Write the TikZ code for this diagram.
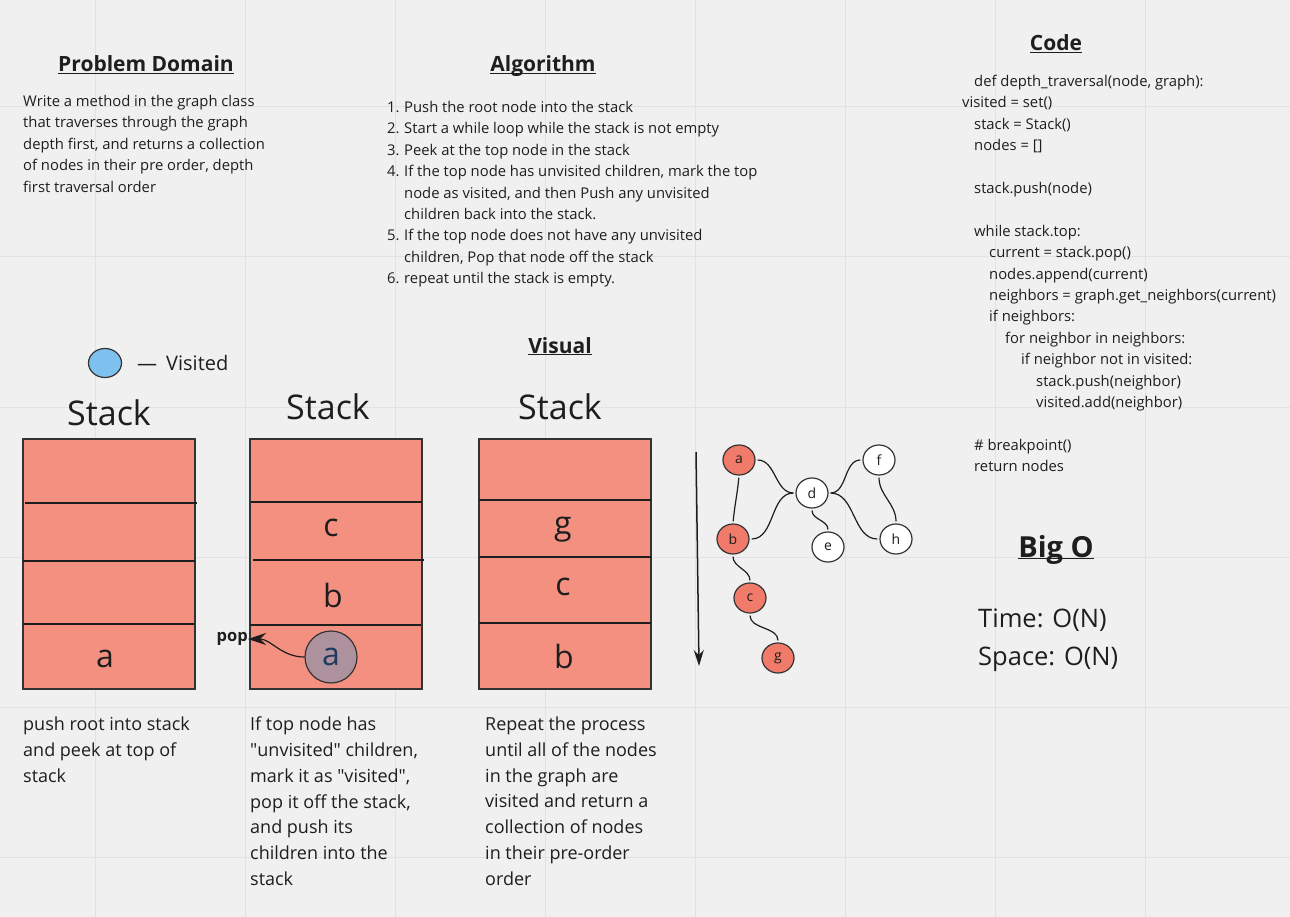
\documentclass[tikz,border=0pt]{standalone}
\usepackage{fontspec}
\setmainfont{Open Sans}
\usetikzlibrary{arrows.meta,shapes.geometric}

\definecolor{paper}{HTML}{F0F0F0}
\definecolor{gridgray}{HTML}{E2E2E2}
\definecolor{ink}{HTML}{1E1E1E}
\definecolor{edge}{HTML}{333333}
\definecolor{stackred}{HTML}{F4907F}
\definecolor{nodered}{HTML}{F17B6A}
\definecolor{visitblue}{HTML}{7EC0EE}
\definecolor{popmauve}{HTML}{AD919C}
\definecolor{navy}{HTML}{1E3A5F}

\begin{document}
\begin{tikzpicture}[x=1pt, y=-1pt, >=Stealth,
        heading/.style={inner sep=0pt, text=ink, font=\fontsize{21}{24}\selectfont\bfseries},
        para/.style={inner sep=0pt, text=ink, anchor=north west, align=left, font=\fontsize{14.8}{21.4}\selectfont},
        note/.style={inner sep=0pt, text=ink, anchor=north west, align=left, font=\fontsize{18}{25.7}\selectfont},
        stacktitle/.style={inner sep=0pt, text=ink, font=\fontsize{34}{40}\selectfont},
        stackbox/.style={rectangle, draw=edge, line width=1.5pt, fill=stackred, minimum width=172pt, minimum height=250pt, inner sep=0pt},
        slot/.style={inner sep=0pt, text=ink, font=\fontsize{32}{36}\selectfont},
        divider/.style={draw=ink, line width=1.5pt},
        gnode/.style={ellipse, draw=edge, line width=1.2pt, minimum width=32pt, minimum height=30pt, inner sep=0pt, text=ink, font=\fontsize{14}{16}\selectfont},
        gedge/.style={draw=ink, line width=1.2pt, shorten <=2pt, shorten >=2pt}
    ]

    % Canvas and grid
    \fill[paper] (0,0) rectangle (1290,917);
    \useasboundingbox (0,0) rectangle (1290,917);
    \foreach \gx in {95,245,...,1145} \draw[gridgray, line width=1pt] (\gx,0) -- (\gx,917);
    \foreach \gy in {107,257,...,857} \draw[gridgray, line width=1pt] (0,\gy) -- (1290,\gy);

    % Problem Domain
    \node[heading] (pdtitle) at (146,73) {\underline{\smash{Problem Domain}}};
    \node[para] (pdtext) at (23,95) {Write a method in the graph class\\
        that traverses through the graph\\
        depth first, and returns a collection\\
        of nodes in their pre order, depth\\
        first traversal order};

    % Algorithm
    \node[heading] (algtitle) at (543,73) {\underline{\smash{Algorithm}}};
    \node[para] (algtext) at (387,101) {\makebox[17pt][l]{1.}Push the root node into the stack\\
        \makebox[17pt][l]{2.}Start a while loop while the stack is not empty\\
        \makebox[17pt][l]{3.}Peek at the top node in the stack\\
        \makebox[17pt][l]{4.}If the top node has unvisited children, mark the top\\
        \hspace*{17pt}node as visited, and then Push any unvisited\\
        \hspace*{17pt}children back into the stack.\\
        \makebox[17pt][l]{5.}If the top node does not have any unvisited\\
        \hspace*{17pt}children, Pop that node off the stack\\
        \makebox[17pt][l]{6.}repeat until the stack is empty.};

    % Code
    \node[heading] (codetitle) at (1056,52) {\underline{\smash{Code}}};
    \node[para] (codetext) at (962,75) {\hspace*{12pt}def depth\_traversal(node, graph):\\
        visited = set()\\
        \hspace*{12pt}stack = Stack()\\
        \hspace*{12pt}nodes = []\\[21.4pt]
        \hspace*{12pt}stack.push(node)\\[21.4pt]
        \hspace*{12pt}while stack.top:\\
        \hspace*{27pt}current = stack.pop()\\
        \hspace*{27pt}nodes.append(current)\\
        \hspace*{27pt}neighbors = graph.get\_neighbors(current)\\
        \hspace*{27pt}if neighbors:\\
        \hspace*{43pt}for neighbor in neighbors:\\
        \hspace*{59pt}if neighbor not in visited:\\
        \hspace*{74pt}stack.push(neighbor)\\
        \hspace*{74pt}visited.add(neighbor)\\[21.4pt]
        \hspace*{12pt}\# breakpoint()\\
        \hspace*{12pt}return nodes};

    % Visual
    \node[heading] (vistitle) at (560,354) {\underline{\smash{Visual}}};

    % Legend
    \node[ellipse, draw=edge, line width=1.2pt, fill=visitblue, minimum width=33pt, minimum height=29pt, inner sep=0pt] (legend) at (105,363) {};
    \node[inner sep=0pt, anchor=west, text=ink, font=\fontsize{20}{24}\selectfont] (legendtext) at (137,363) {—\hspace{9pt}Visited};

    % Stack 1
    \node[stacktitle] (st1) at (109,413) {Stack};
    \node[stackbox] (s1) at (109,564) {};
    \draw[divider] (25,503) -- (197,503);
    \draw[divider] (23,561) -- (195,561);
    \draw[divider] (23,624) -- (194,624);
    \node[slot] (s1a) at (105,659) {a};

    % Stack 2
    \node[stacktitle] (st2) at (328,407) {Stack};
    \node[stackbox] (s2) at (336,564) {};
    \draw[divider] (251,502) -- (422,502);
    \draw[divider] (253,560) -- (424,560);
    \draw[divider] (250,625) -- (421,625);
    \node[slot] (s2c) at (331,528) {c};
    \node[slot] (s2b) at (333,595) {b};
    \node[circle, draw=edge, line width=1.2pt, fill=popmauve, minimum size=52pt, inner sep=0pt, text=navy, font=\fontsize{32}{36}\selectfont] (va) at (331,657) {a};
    \node[inner sep=0pt, anchor=east, text=ink, font=\fontsize{16.5}{18}\selectfont\bfseries] (poplabel) at (248,639) {pop};
    \draw[ink, line width=1.2pt, -{Stealth[length=18pt, width=12pt]}] (va.west) to[out=180, in=0] (poplabel.east);

    % Stack 3
    \node[stacktitle] (st3) at (560,407) {Stack};
    \node[stackbox] (s3) at (565,564) {};
    \draw[divider] (479,500) -- (651,500);
    \draw[divider] (479,557) -- (651,557);
    \draw[divider] (479,623) -- (651,623);
    \node[slot] (s3g) at (563,530) {g};
    \node[slot] (s3c) at (563,587) {c};
    \node[slot] (s3b) at (564,656) {b};

    % Traversal direction
    \coordinate (dirtop) at (696,452);
    \coordinate (dirbot) at (699,666);
    \draw[ink, line width=1.5pt, -{Stealth[length=16pt, width=10pt]}] (dirtop) -- (dirbot);

    % Graph
    \node[gnode, fill=nodered] (ga) at (739,460) {a};
    \node[gnode, fill=white] (gd) at (812,493) {d};
    \node[gnode, fill=white] (gf) at (879,460) {f};
    \node[gnode, fill=nodered] (gb) at (733,539) {b};
    \node[gnode, fill=white] (ge) at (828,547) {e};
    \node[gnode, fill=white] (gh) at (896,539) {h};
    \node[gnode, fill=nodered] (gc) at (750,598) {c};
    \node[gnode, fill=nodered] (gg) at (778,658) {g};

    \draw[gedge] (ga.east) to[out=0, in=180] (gd.west);
    \draw[gedge] (ga.south) to[out=-95, in=85] (gb.north);
    \draw[gedge] (gd.west) to[out=180, in=0] (gb.east);
    \draw[gedge] (gd.south) to[out=-90, in=90] (ge.north);
    \draw[gedge] (gd.east) to[out=0, in=180] (gf.west);
    \draw[gedge] (gd.east) to[out=0, in=180] (gh.west);
    \draw[gedge] (gf.south) to[out=-90, in=90] (gh.north);
    \draw[gedge] (gb.south) to[out=-90, in=90] (gc.north);
    \draw[gedge] (gc.south) to[out=-90, in=90] (gg.north);

    % Notes under the stacks
    \node[note] (note1) at (23,717) {push root into stack\\
        and peek at top of\\
        stack};
    \node[note] (note2) at (250,717) {If top node has\\
        \textquotedbl unvisited\textquotedbl{} children,\\
        mark it as \textquotedbl visited\textquotedbl,\\
        pop it off the stack,\\
        and push its\\
        children into the\\
        stack};
    \node[note] (note3) at (485,717) {Repeat the process\\
        until all of the nodes\\
        in the graph are\\
        visited and return a\\
        collection of nodes\\
        in their pre-order\\
        order};

    % Big O
    \node[heading, font=\fontsize{29}{32}\selectfont\bfseries] (bigotitle) at (1056,558) {\underline{\smash{Big O}}};
    \node[inner sep=0pt, anchor=north west, align=left, text=ink, font=\fontsize{25.5}{38}\selectfont] (bigotext) at (978,609) {Time: O(N)\\
        Space: O(N)};

\end{tikzpicture}
\end{document}
